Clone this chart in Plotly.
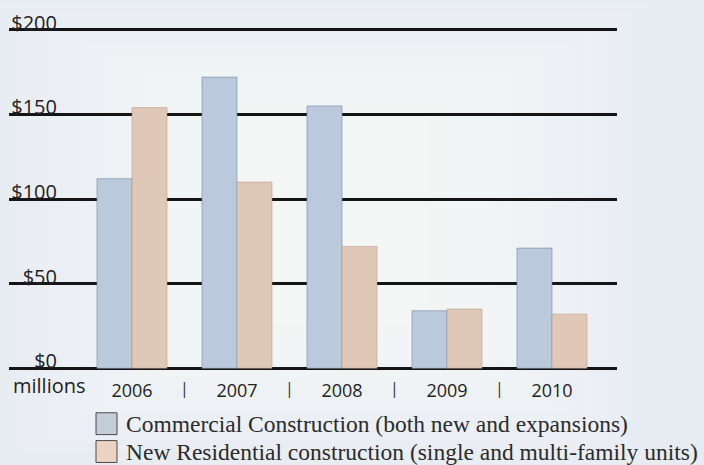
import plotly.graph_objects as go

years = ["2006", "2007", "2008", "2009", "2010"]
commercial = [112, 172, 155, 34, 71]
residential = [154, 110, 72, 35, 32]
series_names = [
    "Commercial Construction (both new and expansions)",
    "New Residential construction (single and multi-family units)",
]
y_ticks = [0, 50, 100, 150, 200]
y_tick_labels = ["$0", "$50", "$100", "$150", "$200"]
unit_label = "millions"

W, H = 704, 465
ML, MR, MT, MB = 9, 87, 26, 95
PW, PH = W - ML - MR, H - MT - MB

def px2x(px):
    return (px - ML) / PW

def px2y(py):
    return (H - MB - py) / PH

COM_COLOR = "#bac9dc"
RES_COLOR = "#dfc8b8"
SANS = "Open Sans, DejaVu Sans, sans-serif"
SERIF = "Liberation Serif, DejaVu Serif, serif"

fig = go.Figure()
fig.add_bar(x=years, y=commercial, name=series_names[0],
            marker=dict(color=COM_COLOR, line=dict(color="rgba(110,130,155,0.55)", width=1)))
fig.add_bar(x=years, y=residential, name=series_names[1],
            marker=dict(color=RES_COLOR, line=dict(color="rgba(170,140,120,0.45)", width=1)))

shapes = []
# soft background glow (decoration)
n = 12
for i in range(n):
    t = i / (n - 1)
    x0 = 0 + t * 230
    x1 = 650 - t * 220
    y0 = 0 + t * 110
    y1 = 465 - t * 140
    shapes.append(dict(type="rect", xref="paper", yref="paper",
                       x0=px2x(x0), x1=px2x(x1), y0=px2y(y1), y1=px2y(y0),
                       fillcolor="white", opacity=0.085, line=dict(width=0), layer="below"))

# custom legend boxes
box_colors = ["#c5cdd8", "#ecd2c3"]
box_tops = [413, 441]
annotations = []
for name, col, top in zip(series_names, box_colors, box_tops):
    shapes.append(dict(type="rect", xref="paper", yref="paper",
                       x0=px2x(96), x1=px2x(117), y0=px2y(top + 22), y1=px2y(top),
                       fillcolor=col, line=dict(color="#4a4a4a", width=1)))
    annotations.append(dict(x=px2x(124), y=px2y(top + 11), xref="paper", yref="paper",
                            text=name, showarrow=False, xanchor="left", yanchor="middle",
                            font=dict(family=SERIF, size=23.5, color="#2b2b2b")))

# separators between year labels
for i in range(len(years) - 1):
    annotations.append(dict(x=i + 0.5, y=0, xref="x", yref="paper", text="|",
                            showarrow=False, yanchor="middle", yshift=-18,
                            font=dict(family=SANS, size=16, color="#333")))

annotations.append(dict(x=px2x(11), y=0, xref="paper", yref="paper", text=unit_label,
                        showarrow=False, xanchor="left", yanchor="middle", yshift=-15,
                        font=dict(family=SANS, size=20, color="#222")))

fig.update_layout(
    width=W, height=H,
    margin=dict(l=ML, r=MR, t=MT, b=MB, pad=0),
    paper_bgcolor="#e6ecf2", plot_bgcolor="rgba(0,0,0,0)",
    barmode="group", bargap=0.333, bargroupgap=0,
    showlegend=False,
    shapes=shapes, annotations=annotations,
    xaxis=dict(type="category", range=[-1.1714, 4.619], showgrid=False, zeroline=False,
               showline=False, ticks="", tickfont=dict(family=SANS, size=18, color="#222"),
               ticklabelstandoff=8),
    yaxis=dict(range=[-1, 201], tickvals=y_ticks, ticktext=y_tick_labels,
               showgrid=True, gridcolor="#151515", gridwidth=3,
               zeroline=True, zerolinecolor="#151515", zerolinewidth=3,
               showline=False, ticks="", anchor="free", position=px2x(57),
               ticklabelposition="outside", ticklabelshift=-7,
               tickfont=dict(family=SANS, size=20, color="#222")),
)

fig.write_html("out.html", config={"displayModeBar": False},
               post_script="document.body.style.margin='0px';document.body.style.overflow='hidden';")
